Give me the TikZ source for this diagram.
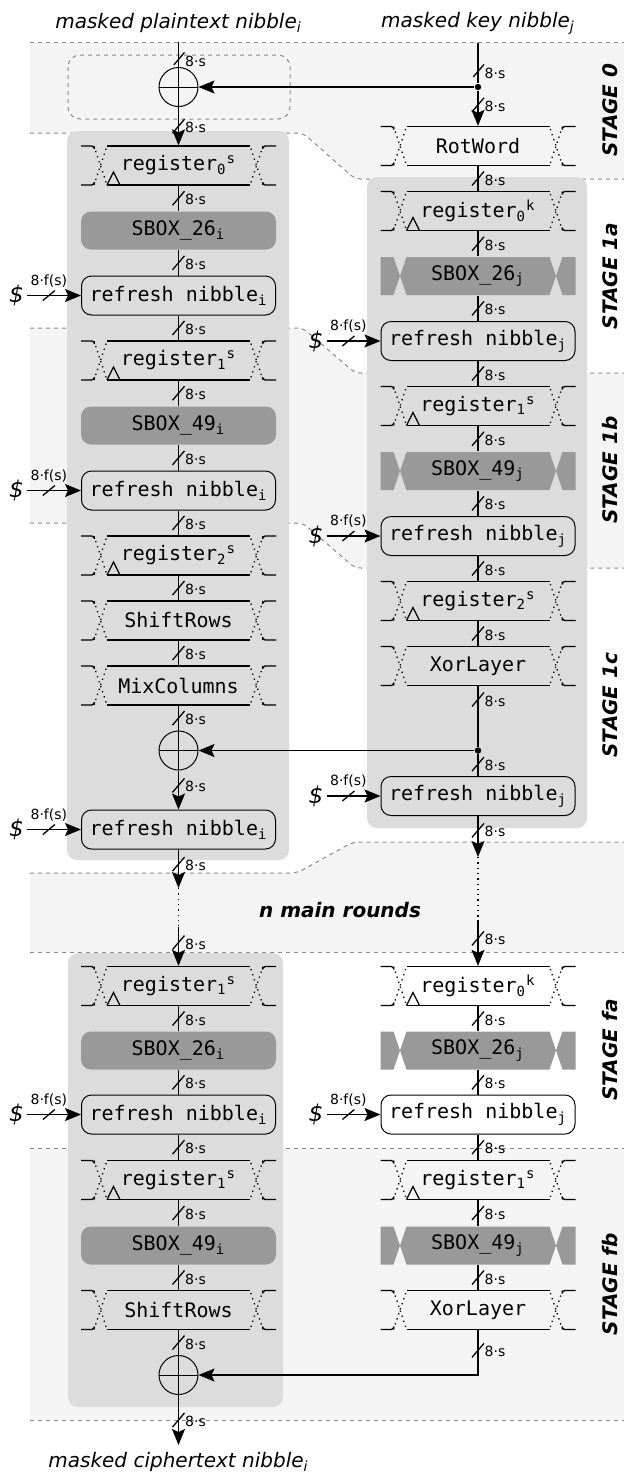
\documentclass[tikz,border=0pt]{standalone}
\usepackage{fontspec}
\setmainfont{DejaVu Sans}
\setmonofont{DejaVu Sans Mono}
\usetikzlibrary{arrows.meta}

\definecolor{bandgray}{HTML}{F4F4F4}
\definecolor{panelgray}{HTML}{DCDCDC}
\definecolor{sboxgray}{HTML}{999999}
\definecolor{bordergray}{HTML}{8A8A8A}

\newcommand{\wlbl}{\fontsize{7}{8}\selectfont}
\newcommand{\blk}{\fontsize{10}{12}\selectfont\ttfamily}

\tikzset{
  % register-like block: top/bottom lines, stubs and dotted crossings
  pics/busframe/.style={code={
    \draw[-,solid] (-71.5,-19.5) -- (71.5,-19.5) (-71.5,19.5) -- (71.5,19.5);
    \draw[-,solid,rounded corners=0.8pt] (-97.5,-19.5) -- (-85,-19.5) -- (-84,-16.5)
      (-97.5,19.5) -- (-85,19.5) -- (-84,16.5)
      (97.5,-19.5) -- (85,-19.5) -- (84,-16.5)
      (97.5,19.5) -- (85,19.5) -- (84,16.5);
    \draw[-,dotted] (-84.5,-19.5) -- (-71.5,19.5) (-84.5,19.5) -- (-71.5,-19.5)
      (84.5,-19.5) -- (71.5,19.5) (84.5,19.5) -- (71.5,-19.5);
  }},
  % clock triangle
  pics/clock/.style={code={\draw[-,solid] (-71.5,19.5) -- (-65,6.5) -- (-58.5,19.5);}},
  % key sbox background
  pics/ksbox/.style={code={
    \fill[sboxgray] (-97.5,-19) -- (-84.5,-19) -- (-78,0) -- (-84.5,19) -- (-97.5,19) -- cycle
      (-71.5,-19) -- (71.5,-19) -- (78,0) -- (71.5,19) -- (-71.5,19) -- (-78,0) -- cycle
      (84.5,-19) -- (97.5,-19) -- (97.5,19) -- (84.5,19) -- (78,0) -- cycle;
  }},
  % bus width marks
  pics/wbus/.style={code={
    \draw[-,solid] (-6,7) -- (6,-7);
    \node[anchor=west, inner sep=0pt, font=\wlbl] at (6,1.5) {8·s};
  }},
  pics/wrnd/.style={code={
    \draw[-,solid] (-6,5) -- (6,-5);
    \node[anchor=south, inner sep=0pt, font=\wlbl] at (0,-8) {8·f(s)};
  }},
}

\begin{document}
\begin{tikzpicture}[x=0.5pt, y=-0.5pt, line width=0.65pt,
    >={Stealth[length=8pt,width=6.5pt,inset=1.5pt]},
    busblock/.style={minimum width=71.5pt, minimum height=19.5pt, inner sep=0pt, font=\blk},
    sboxi/.style={fill=sboxgray, rounded corners=5pt, minimum width=97.5pt, minimum height=19pt, inner sep=0pt, font=\blk},
    sboxj/.style={minimum width=71.5pt, minimum height=19pt, inner sep=0pt, font=\blk},
    refr/.style={draw, line width=0.5pt, rounded corners=5pt, minimum width=97pt, minimum height=19.5pt, inner sep=0pt, font=\blk},
    xorop/.style={draw, circle, line width=0.5pt, minimum size=19.5pt, inner sep=0pt,
      path picture={\draw[line width=0.5pt] (path picture bounding box.north) -- (path picture bounding box.south)
        (path picture bounding box.west) -- (path picture bounding box.east);}},
    joint/.style={circle, fill, inner sep=0pt, minimum size=3.2pt},
    io/.style={font=\fontsize{10}{12}\selectfont\itshape},
    rnd/.style={font=\fontsize{11.5}{13}\selectfont\itshape, inner sep=1.5pt},
    stagelbl/.style={font=\fontsize{10}{12}\selectfont\bfseries\itshape, rotate=90},
    stageline/.style={dash pattern=on 2pt off 2pt, draw=bordergray, line width=0.5pt, rounded corners=3pt}]
  \useasboundingbox (0,0) rectangle (624,1473);

  % stage bands
  \fill[bandgray] (30,42) -- (624,42) -- (624,179) -- (355,179) -- (303,133) -- (30,133) -- cycle;
  \fill[bandgray] (30,328) -- (303,328) -- (355,373) -- (624,373) -- (624,568) -- (355,568) -- (303,523) -- (30,523) -- cycle;
  \fill[bandgray] (30,873) -- (297,873) -- (353,842) -- (624,842) -- (624,952) -- (30,952) -- cycle;
  \fill[bandgray] (30,1148) rectangle (624,1420);
  \draw[stageline] (30,42) -- (624,42);
  \draw[stageline] (30,133) -- (303,133) -- (355,179) -- (624,179);
  \draw[stageline] (30,328) -- (303,328) -- (355,373) -- (624,373);
  \draw[stageline] (30,523) -- (303,523) -- (355,568) -- (624,568);
  \draw[stageline] (30,873) -- (297,873) -- (353,842) -- (624,842);
  \draw[stageline] (30,952) -- (624,952);
  \draw[stageline] (30,1148) -- (624,1148);
  \draw[stageline] (30,1420) -- (624,1420);

  % panels
  \fill[panelgray, rounded corners=5pt] (67,131) rectangle (289,860);
  \fill[panelgray, rounded corners=5pt] (367,177) rectangle (587,828);
  \fill[panelgray, rounded corners=5pt] (68,953) rectangle (283,1407);
  \draw[stageline, rounded corners=6pt] (68,55) rectangle (290,119);

  % stage labels
  \node[stagelbl] (st0) at (610,110) {STAGE 0};
  \node[stagelbl] (st1a) at (610,276) {STAGE 1a};
  \node[stagelbl] (st1b) at (610,470) {STAGE 1b};
  \node[stagelbl] (st1c) at (610,705) {STAGE 1c};
  \node[stagelbl] (stfa) at (610,1050) {STAGE fa};
  \node[stagelbl] (stfb) at (610,1284) {STAGE fb};
  \node[font=\fontsize{10}{12}\selectfont\bfseries\itshape] (rounds) at (340,910) {n main rounds};

  % key sbox shapes
  \foreach \p in {(478,276),(478,471),(478,1050.5),(478,1245.5)}
    \pic at \p {ksbox};

  % state path
  \node[io] (inP) at (178.5,23) {masked plaintext nibble\textsubscript{i}};
  \node[xorop] (xorA) at (178.5,87) {};
  \node[busblock] (regSa) at (178.5,165.5) {register\textsubscript{0}\textsuperscript{s}};
  \node[sboxi] (sbxA) at (178.5,230.5) {SBOX\_26\textsubscript{i}};
  \node[refr] (refA1) at (178.5,295.5) {refresh nibble\textsubscript{i}};
  \node[busblock] (regSb) at (178.5,360.5) {register\textsubscript{1}\textsuperscript{s}};
  \node[sboxi] (sbxB) at (178.5,425.5) {SBOX\_49\textsubscript{i}};
  \node[refr] (refA2) at (178.5,490.5) {refresh nibble\textsubscript{i}};
  \node[busblock] (regSc) at (178.5,555.5) {register\textsubscript{2}\textsuperscript{s}};
  \node[busblock] (shfA) at (178.5,620.5) {ShiftRows};
  \node[busblock] (mixA) at (178.5,685.5) {MixColumns};
  \node[xorop] (xorB) at (178.5,750.5) {};
  \node[refr] (refA3) at (178.5,829.5) {refresh nibble\textsubscript{i}};
  \coordinate (gapA1) at (178.5,888);
  \coordinate (gapA2) at (178.5,927);
  \node[busblock] (regSf) at (178.5,986) {register\textsubscript{1}\textsuperscript{s}};
  \node[sboxi] (sbxF) at (178.5,1050.5) {SBOX\_26\textsubscript{i}};
  \node[refr] (refF) at (178.5,1114.5) {refresh nibble\textsubscript{i}};
  \node[busblock] (regSg) at (178.5,1180) {register\textsubscript{1}\textsuperscript{s}};
  \node[sboxi] (sbxG) at (178.5,1245.5) {SBOX\_49\textsubscript{i}};
  \node[busblock] (shfF) at (178.5,1310) {ShiftRows};
  \node[xorop] (xorC) at (178.5,1375) {};
  \node[io] (outC) at (178.5,1462) {masked ciphertext nibble\textsubscript{i}};

  % key path
  \node[io] (inK) at (478,23) {masked key nibble\textsubscript{j}};
  \node[joint] (jA) at (478,87) {};
  \node[busblock] (rotK) at (478,146) {RotWord};
  \node[busblock] (regKa) at (478,211) {register\textsubscript{0}\textsuperscript{k}};
  \node[sboxj] (sbxKa) at (478,276) {SBOX\_26\textsubscript{j}};
  \node[refr] (refK1) at (478,341) {refresh nibble\textsubscript{j}};
  \node[busblock] (regKb) at (478,406) {register\textsubscript{1}\textsuperscript{s}};
  \node[sboxj] (sbxKb) at (478,471) {SBOX\_49\textsubscript{j}};
  \node[refr] (refK2) at (478,536) {refresh nibble\textsubscript{j}};
  \node[busblock] (regKc) at (478,601) {register\textsubscript{2}\textsuperscript{s}};
  \node[busblock] (xlK) at (478,666) {XorLayer};
  \node[joint] (jB) at (478,750.5) {};
  \node[refr] (refK3) at (478,796) {refresh nibble\textsubscript{j}};
  \coordinate (gapK1) at (478,857);
  \coordinate (gapK2) at (478,920);
  \node[busblock] (regKf) at (478,986) {register\textsubscript{0}\textsuperscript{k}};
  \node[sboxj] (sbxKf) at (478,1050.5) {SBOX\_26\textsubscript{j}};
  \node[refr] (refKf) at (478,1114.5) {refresh nibble\textsubscript{j}};
  \node[busblock] (regKg) at (478,1180) {register\textsubscript{1}\textsuperscript{s}};
  \node[sboxj] (sbxKg) at (478,1245.5) {SBOX\_49\textsubscript{j}};
  \node[busblock] (xlKf) at (478,1310) {XorLayer};
  \coordinate (turnK) at (478,1375);

  % block frames
  \foreach \n in {regSa,regSb,regSc,shfA,mixA,regSf,regSg,shfF,rotK,regKa,regKb,regKc,xlK,regKf,regKg,xlKf}
    \pic at (\n) {busframe};
  \foreach \n in {regSa,regSb,regSc,regSf,regSg,regKa,regKb,regKc,regKf,regKg}
    \pic at (\n) {clock};

  % fresh randomness
  \foreach \r in {refA1,refA2,refA3,refF,refK1,refK2,refK3,refKf} {
    \node[rnd] (rnd\r) at ([xshift=-32.25pt]\r.west) {\$};
    \draw[->] (rnd\r) -- pic[pos=.4]{wrnd} (\r);
  }

  % state connections
  \draw[shorten <=1pt] (inP) -- pic[pos=.72]{wbus} (xorA);
  \draw[->] (xorA) -- pic[midway]{wbus} (regSa);
  \foreach \a/\b in {regSa/sbxA, sbxA/refA1, refA1/regSb, regSb/sbxB, sbxB/refA2, refA2/regSc,
      regSc/shfA, shfA/mixA, mixA/xorB, regSf/sbxF, sbxF/refF, refF/regSg, regSg/sbxG, sbxG/shfF, shfF/xorC}
    \draw (\a) -- pic[midway]{wbus} (\b);
  \draw[->] (xorB) -- pic[pos=.38]{wbus} (refA3);
  \draw[->] (refA3) -- pic[pos=.38]{wbus} (gapA1);
  \draw[dotted] (gapA1) -- (gapA2);
  \draw[->] (gapA2) -- pic[pos=.4]{wbus} (regSf);
  \draw[->] (xorC) -- pic[pos=.5]{wbus} (outC);

  % key connections
  \draw[shorten <=1pt] (inK) -- pic[pos=.72]{wbus} (jA);
  \draw[->] (jA) -- pic[pos=.4]{wbus} (rotK);
  \draw[->] (jA) -- (xorA);
  \foreach \a/\b in {rotK/regKa, regKa/sbxKa, sbxKa/refK1, refK1/regKb, regKb/sbxKb, sbxKb/refK2,
      refK2/regKc, regKc/xlK, regKf/sbxKf, sbxKf/refKf, refKf/regKg, regKg/sbxKg, sbxKg/xlKf}
    \draw (\a) -- pic[midway]{wbus} (\b);
  \draw (xlK) -- pic[pos=.22]{wbus} (jB);
  \draw (jB) -- pic[pos=.45]{wbus} (refK3);
  \draw[->] (jB) -- (xorB);
  \draw[->] (refK3) -- pic[pos=.35]{wbus} (gapK1);
  \draw[dotted] (gapK1) -- (gapK2);
  \draw[->] (gapK2) -- pic[pos=.4]{wbus} (regKf);
  \draw[->] (xlKf) -- pic[pos=.45]{wbus} (turnK) -- (xorC);
\end{tikzpicture}
\end{document}
